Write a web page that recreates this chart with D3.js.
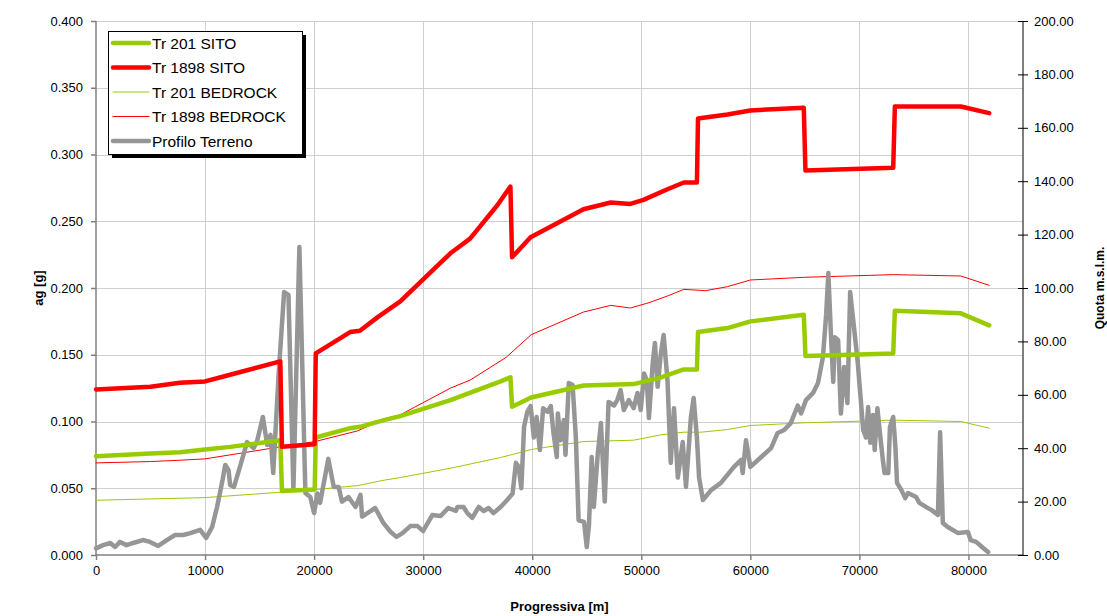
<!DOCTYPE html>
<html><head><meta charset="utf-8">
<script src="https://cdn.jsdelivr.net/npm/d3@7"></script>
<style>body{margin:0;background:#fff}svg text{font-family:"Liberation Sans",Arial,sans-serif}</style>
</head><body><svg id="c" width="1107" height="616"></svg>
<script>
// ---- Data ----
const xTicks = [0,10000,20000,30000,40000,50000,60000,70000,80000];
const leftTicks = [0,0.05,0.1,0.15,0.2,0.25,0.3,0.35,0.4];
const rightTicks = [0,20,40,60,80,100,120,140,160,180,200];
const seriesNames = ["Tr 201 SITO","Tr 1898 SITO","Tr 201 BEDROCK","Tr 1898 BEDROCK","Profilo Terreno"];

const tr201Sito = [[0,0.074],[5000,0.076],[7700,0.077],[10000,0.079],[12300,0.081],[16900,0.086],[17050,0.048],[20050,0.049],[20150,0.088],[23300,0.095],[24200,0.096],[26400,0.101],[27900,0.104],[32500,0.116],[37100,0.130],[38000,0.133],[38150,0.111],[39900,0.118],[44700,0.127],[49300,0.128],[51800,0.133],[53900,0.139],[55100,0.139],[55200,0.167],[57900,0.170],[60000,0.175],[64900,0.180],[65050,0.149],[73100,0.151],[73250,0.183],[79300,0.181],[81900,0.172]];
const tr1898Sito = [[0,0.124],[5000,0.126],[7700,0.129],[10000,0.130],[12300,0.135],[16900,0.145],[17050,0.081],[20050,0.083],[20150,0.151],[23300,0.167],[24200,0.168],[25800,0.178],[27900,0.190],[31600,0.219],[32500,0.226],[34300,0.237],[36800,0.262],[38000,0.276],[38150,0.223],[39850,0.238],[44700,0.259],[47200,0.264],[49000,0.263],[50200,0.266],[52400,0.274],[53900,0.279],[55100,0.279],[55200,0.327],[57900,0.330],[60000,0.333],[64900,0.335],[65050,0.288],[73100,0.290],[73250,0.336],[79300,0.336],[81900,0.331]];
const tr201Bed = [[0,0.041],[5000,0.042],[10000,0.043],[16900,0.047],[20100,0.049],[24000,0.052],[26400,0.056],[27900,0.058],[32500,0.065],[37100,0.073],[39900,0.079],[44700,0.085],[49300,0.086],[51800,0.090],[53900,0.092],[55500,0.092],[57900,0.094],[60000,0.097],[64900,0.099],[73100,0.101],[79300,0.100],[81900,0.095]];
const tr1898Bed = [[0,0.069],[5000,0.070],[7700,0.071],[10000,0.072],[16900,0.081],[20100,0.085],[24000,0.093],[26400,0.102],[27900,0.105],[32500,0.125],[34300,0.131],[37600,0.148],[39900,0.165],[44700,0.182],[47200,0.187],[49000,0.185],[50700,0.189],[52400,0.194],[53900,0.199],[55900,0.198],[57900,0.201],[60000,0.206],[64900,0.208],[73100,0.210],[79300,0.209],[81900,0.202]];
const terrain = [[0,2.5],[650,3.7],[1300,4.5],[1750,3],[2200,4.9],[2800,3.7],[3400,4.5],[4300,5.6],[4950,4.9],[5700,3.4],[6500,5.6],[7250,7.5],[8000,7.5],[8650,8.2],[9550,9.4],[10100,6.4],[10650,10.5],[11100,18],[11600,28],[11850,33.7],[12150,31.8],[12300,26.2],[12650,25.5],[13200,33],[13850,42.3],[14450,40],[14750,42.3],[15300,51.7],[15700,41.2],[16000,45],[16250,30.7],[16750,68],[17250,98.5],[17650,97.4],[18100,24.3],[18650,115.4],[19200,23.2],[19650,21.7],[20000,15.7],[20300,23],[20550,19.5],[21300,36],[21800,25.5],[22250,25.5],[22550,20],[23150,21.7],[23800,18],[24250,22.5],[24400,14.4],[25000,16],[25600,17.6],[26350,12],[27000,8.7],[27550,6.8],[28100,8.2],[28850,10.9],[29450,10.9],[30000,9.0],[30850,15],[31600,14.6],[32300,17.6],[33000,16.5],[33150,18],[33700,18],[34050,15.7],[34500,13.9],[35100,18],[35550,16.5],[36000,17.6],[36450,15.7],[37100,18],[37700,20.6],[38200,23],[38500,34.5],[38750,33],[39000,25],[39250,48],[39550,53.6],[39850,55.8],[40150,44],[40400,51.7],[40700,39.3],[41000,55],[41400,53.6],[41700,55.8],[41950,45.7],[42250,36.7],[42350,53],[42600,43],[42900,50.6],[43050,37.5],[43350,64.4],[43700,63.7],[44000,44],[44250,13],[44750,12.4],[45000,3],[45200,11.2],[45450,36.7],[45650,18],[46000,37.5],[46300,49.4],[46650,20],[47000,57.3],[47500,56],[47800,58],[48100,61.8],[48400,54.3],[48850,58],[49300,55],[49650,60.7],[49950,54.3],[50250,68],[50500,65.5],[50700,51.3],[51050,72],[51250,79.4],[51500,63],[51800,75.7],[52050,82.4],[52400,65.5],[52700,34.5],[53000,55],[53350,29],[53800,42.3],[54100,25.5],[54550,51.7],[54800,58.8],[55100,44],[55300,29],[55650,20.6],[56400,24.3],[57300,27],[57600,28.5],[58500,33],[59150,35.6],[59300,30.7],[59600,43],[60000,33],[61000,36.7],[61900,40],[62500,45.7],[63100,46.8],[63700,49.4],[64350,56],[64650,53],[65100,58],[65750,60.7],[66200,64.4],[66650,74],[66950,89.9],[67150,105.6],[67400,81.6],[67600,64.8],[67750,81.6],[68050,80.5],[68300,53],[68600,70.4],[68900,56.9],[69150,98.5],[69500,85.4],[69850,72],[70000,64.4],[70350,46.8],[70600,44],[70800,55.4],[71000,42],[71250,52.4],[71400,39.3],[71650,55],[71850,46.8],[72150,35.6],[72300,30.7],[72650,30.7],[72800,48],[73100,51.7],[73300,40.5],[73450,27],[73850,24.3],[74200,21.3],[74450,23.2],[75200,21.7],[75500,19.5],[76100,18],[76600,16.9],[77200,15],[77400,46],[77650,12],[78100,10.5],[79050,8.2],[79950,8.6],[80200,5.6],[80700,4.9],[81350,2.6],[81800,1.1]];

// ---- Layout ----
const L=96, R=1023, T=21, B=555;
const svg = d3.select("#c");
const x = d3.scaleLinear().domain([0,85000]).range([L,R]);
const yL = d3.scaleLinear().domain([0,0.4]).range([B,T]);
const yR = d3.scaleLinear().domain([0,200]).range([B,T]);

// gridlines
const grid = svg.append("g").attr("stroke","#cfcfcf").attr("stroke-width",1);
xTicks.slice(1).forEach(v=>grid.append("line").attr("x1",Math.round(x(v))+0.5).attr("x2",Math.round(x(v))+0.5).attr("y1",T).attr("y2",B));
leftTicks.slice(1).forEach(v=>grid.append("line").attr("x1",L).attr("x2",R).attr("y1",Math.round(yL(v))+0.5).attr("y2",Math.round(yL(v))+0.5));

// axes
const fmt3 = d3.format(".3f"), fmt2 = d3.format(".2f");
const axL = svg.append("g").attr("transform",`translate(${L},0)`).call(d3.axisLeft(yL).tickValues(leftTicks).tickFormat(fmt3).tickSize(5).tickPadding(8));
const axB = svg.append("g").attr("transform",`translate(0,${B})`).call(d3.axisBottom(x).tickValues(xTicks).tickFormat(d3.format("d")).tickSize(5).tickPadding(6));
const axR = svg.append("g").attr("transform",`translate(${R},0)`).call(d3.axisRight(yR).tickValues(rightTicks).tickFormat(fmt2).tickSize(5).tickPadding(6));
axR.selectAll(".tick").append("line").attr("x2",-5).attr("stroke","#000");
[axL,axB,axR].forEach(a=>{a.selectAll("text").attr("font-size",13).attr("fill","#000").attr("font-family","Liberation Sans, Arial, sans-serif");});
axL.selectAll("path,line").attr("stroke","#808080").attr("stroke-width",1.5);
axB.selectAll("path,line").attr("stroke","#808080").attr("stroke-width",1.5);
axR.selectAll("path,line").attr("stroke","#000");
axL.select("path").attr("d",`M0,${B}V${T}`);
axB.select("path").attr("d",`M${L},0H${R}`);
axR.select("path").attr("d",`M0,${B}V${T}`);

// lines
const lineL = d3.line().x(d=>x(d[0])).y(d=>yL(d[1]));
const lineR = d3.line().x(d=>x(d[0])).y(d=>yR(d[1]));
const styles = [
  {data:tr201Bed, gen:lineL, color:"#99cc00", w:1},
  {data:tr1898Bed, gen:lineL, color:"#ff0000", w:1},
  {data:terrain, gen:lineR, color:"#969696", w:4.5},
  {data:tr201Sito, gen:lineL, color:"#99cc00", w:4.5},
  {data:tr1898Sito, gen:lineL, color:"#ff0000", w:4.5}
];
styles.forEach(s=>svg.append("path").attr("d",s.gen(s.data)).attr("fill","none").attr("stroke",s.color).attr("stroke-width",s.w).attr("stroke-linejoin","round").attr("stroke-linecap","round"));

// titles
svg.append("text").attr("x",(L+R)/2).attr("y",611).attr("text-anchor","middle").attr("font-size",13).attr("font-weight","bold").text("Progressiva [m]");
svg.append("text").attr("transform","translate(43,288) rotate(-90)").attr("text-anchor","middle").attr("font-size",13).attr("font-weight","bold").text("ag [g]");
svg.append("text").attr("transform","translate(1104,288) rotate(-90)").attr("text-anchor","middle").attr("font-size",12).attr("font-weight","bold").text("Quota m.s.l.m.");

// legend
const lg = svg.append("g");
lg.append("rect").attr("x",112).attr("y",35).attr("width",194).attr("height",123).attr("fill","#000");
lg.append("rect").attr("x",108.5).attr("y",31.5).attr("width",194).attr("height",123).attr("fill","#fff").attr("stroke","#000").attr("stroke-width",1);
const legItems = [
  {name:seriesNames[0], color:"#99cc00", w:4.5},
  {name:seriesNames[1], color:"#ff0000", w:4.5},
  {name:seriesNames[2], color:"#99cc00", w:1},
  {name:seriesNames[3], color:"#ff0000", w:1},
  {name:seriesNames[4], color:"#969696", w:4.5}
];
legItems.forEach((it,i)=>{
  const cy = 43 + i*24.5;
  lg.append("line").attr("x1",113).attr("x2",149).attr("y1",cy).attr("y2",cy).attr("stroke",it.color).attr("stroke-width",it.w).attr("stroke-linecap","round");
  lg.append("text").attr("x",152).attr("y",cy+5.5).attr("font-size",15.5).text(it.name);
});
</script></body></html>
